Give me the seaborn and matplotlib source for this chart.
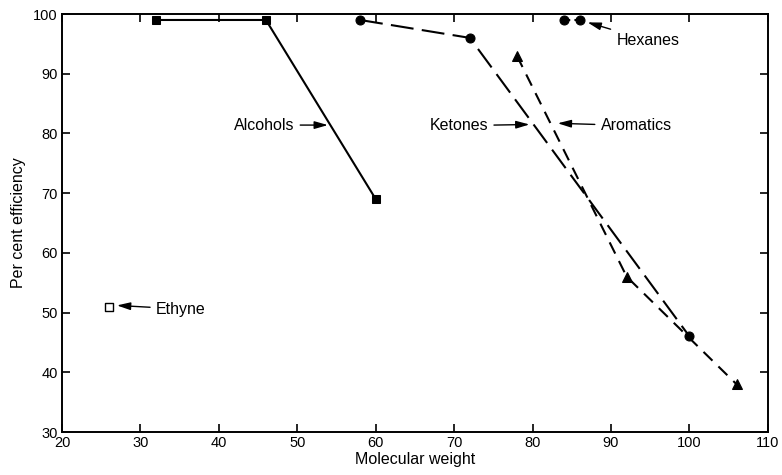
import numpy as np
import pandas as pd
import matplotlib
matplotlib.use("Agg")
import matplotlib.pyplot as plt
import seaborn as sns

# values
alc_x = [32, 46, 60]
alc_y = [99, 99, 69]
ket_x = [58, 72, 100]
ket_y = [99, 96, 46]
aro_x = [78, 92, 106]
aro_y = [93, 56, 38]
hex_x = [84, 86]
hex_y = [99, 99]
eth_x = [26]
eth_y = [51]

xticks = [20, 30, 40, 50, 60, 70, 80, 90, 100, 110]
yticks = [30, 40, 50, 60, 70, 80, 90, 100]

sns.set_style("ticks")
plt.rcParams["font.family"] = ["Liberation Sans", "DejaVu Sans"]
plt.rcParams["font.size"] = 10
plt.rcParams["text.color"] = "black"
plt.rcParams["axes.labelcolor"] = "black"
plt.rcParams["xtick.color"] = "black"
plt.rcParams["ytick.color"] = "black"

fig = plt.figure(figsize=(7.82, 4.75), dpi=100)
ax = fig.add_axes([0.0793, 0.0905, 0.9027, 0.88])

alc = pd.DataFrame({"mw": alc_x, "eff": alc_y})
ket = pd.DataFrame({"mw": ket_x, "eff": ket_y})
aro = pd.DataFrame({"mw": aro_x, "eff": aro_y})
hexa = pd.DataFrame({"mw": hex_x, "eff": hex_y})
eth = pd.DataFrame({"mw": eth_x, "eff": eth_y})

sns.lineplot(data=alc, x="mw", y="eff", ax=ax, color="black", lw=1.5,
             marker="s", markersize=5.8, mec="black", sort=False)
sns.lineplot(data=ket, x="mw", y="eff", ax=ax, color="black", lw=1.5,
             marker="o", markersize=6.5, mec="black", sort=False)
ax.lines[-1].set_dashes([11, 4])
sns.lineplot(data=aro, x="mw", y="eff", ax=ax, color="black", lw=1.5,
             marker="^", markersize=6.5, mec="black", sort=False)
ax.lines[-1].set_dashes([6, 4])
sns.lineplot(data=hexa, x="mw", y="eff", ax=ax, color="black", lw=1.5,
             marker="o", markersize=6.5, mec="black", sort=False)
ax.lines[-1].set_dashes([3, 2])
sns.scatterplot(data=eth, x="mw", y="eff", ax=ax, marker="s", s=30,
                facecolor="white", edgecolor="black", linewidth=1.0, zorder=5)

arrow = dict(arrowstyle="-|>,head_length=0.7,head_width=0.2", color="black", lw=1.0,
             shrinkA=2, shrinkB=0)
fs = 11.5
ax.annotate("Alcohols", xy=(53.9, 81.4), xytext=(49.6, 81.4), ha="right", va="center",
            fontsize=fs, arrowprops=arrow)
ax.annotate("Ketones", xy=(79.6, 81.5), xytext=(74.3, 81.3), ha="right", va="center",
            fontsize=fs, arrowprops=arrow)
ax.annotate("Aromatics", xy=(83.2, 81.7), xytext=(88.7, 81.3), ha="left", va="center",
            fontsize=fs, arrowprops=arrow)
ax.annotate("Hexanes", xy=(87.0, 98.6), xytext=(90.7, 95.6), ha="left", va="center",
            fontsize=fs, arrowprops=arrow)
ax.annotate("Ethyne", xy=(27.0, 51.2), xytext=(32.0, 50.6), ha="left", va="center",
            fontsize=fs, arrowprops=arrow)

ax.set_xlim(20, 110)
ax.set_ylim(30, 100)
ax.set_xticks(xticks)
ax.set_yticks(yticks)
ax.tick_params(direction="in", top=True, right=True, length=6, width=1.2,
               labelsize=10.5, pad=3)
for s in ax.spines.values():
    s.set_linewidth(1.4)
    s.set_color("black")
ax.set_xlabel("Molecular weight", fontsize=11.5, labelpad=1)
ax.set_ylabel("Per cent efficiency", fontsize=11.5, labelpad=5)

fig.savefig("out.png", dpi=100)
